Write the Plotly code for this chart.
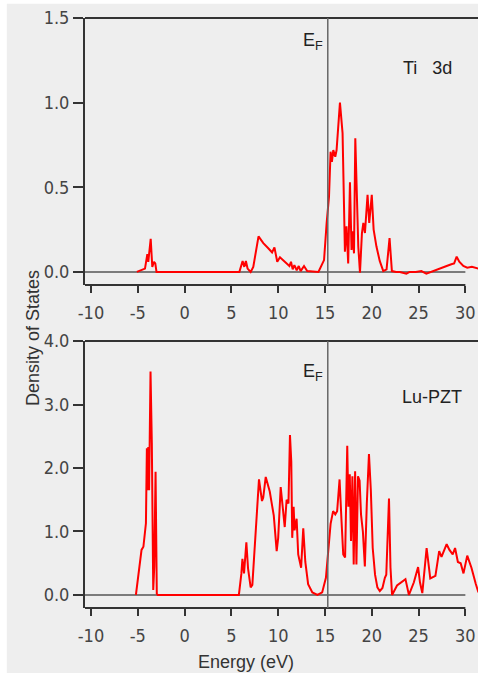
import plotly.graph_objects as go

# ---------------- data ----------------
ti_energy = [-5.1, -4.6, -4.23, -3.98, -3.88, -3.62, -3.45, -3.27, -3.13, -3.0,
             5.85, 6.2, 6.38, 6.55, 6.73, 7.06, 7.34, 7.9, 8.41, 8.94, 9.35, 9.6, 9.9,
             10.19, 10.55, 10.9, 11.2, 11.37, 11.55, 11.73, 11.98, 12.2, 12.4, 12.76, 13.1,
             14.3, 14.9, 15.18, 15.43, 15.6, 15.74, 15.89, 16.1, 16.24, 16.6, 16.88, 17.13,
             17.3, 17.48, 17.67, 17.84, 17.95, 18.1, 18.24, 18.45, 18.56, 18.74, 18.95, 19.1,
             19.27, 19.55, 19.73, 20.0, 20.2, 20.5, 20.85, 21.23, 21.58, 21.9, 22.15, 22.6,
             23.0, 23.7, 24.05, 24.7, 25.3, 25.83, 26.5, 27.3, 28.0, 28.5, 28.8, 29.07,
             29.35, 29.78, 30.2, 30.7, 31.4]
ti_dos = [0.0, 0.01, 0.02, 0.105, 0.06, 0.195, 0.03, 0.06, 0.05, 0.0,
          0.0, 0.065, 0.03, 0.065, 0.02, 0.0, 0.03, 0.21, 0.17, 0.14, 0.115, 0.145, 0.06,
          0.087, 0.067, 0.05, 0.035, 0.06, 0.015, 0.04, 0.01, 0.035, 0.005, 0.035, 0.005,
          0.0, 0.07, 0.29, 0.445, 0.71, 0.65, 0.72, 0.68, 0.72, 1.0, 0.82, 0.12,
          0.27, 0.05, 0.53, 0.13, 0.24, 0.11, 0.79, 0.25, 0.15, -0.005, 0.23, 0.29,
          0.23, 0.455, 0.29, 0.455, 0.25, 0.15, 0.065, 0.005, 0.015, 0.2, 0.005, 0.0,
          0.0, -0.01, 0.0, 0.0, 0.005, -0.01, 0.005, 0.02, 0.035, 0.045, 0.05, 0.09,
          0.06, 0.035, 0.025, 0.03, 0.02]

lu_energy = [-5.2, -4.84, -4.6, -4.4, -4.24, -4.13, -4.03, -3.96, -3.88, -3.79, -3.64,
             -3.5, -3.35, -3.24, -3.1, -2.97, -2.87, 5.8, 6.07, 6.18, 6.35, 6.6, 6.78,
             7.06, 7.24, 7.95, 8.27, 8.4, 8.67, 8.84, 9.1, 9.36, 9.53, 9.84, 10.0, 10.27,
             10.48, 10.7, 10.9, 11.1, 11.26, 11.4, 11.5, 11.65, 11.75, 11.97, 12.14, 12.3,
             12.45, 12.68, 12.9, 13.2, 13.65, 14.2, 14.7, 15.1, 15.35, 15.6, 15.87, 16.1,
             16.3, 16.56, 16.77, 16.95, 17.15, 17.38, 17.5, 17.65, 17.78, 17.93, 18.07,
             18.22, 18.36, 18.53, 18.7, 18.85, 19.05, 19.26, 19.47, 19.7, 19.9, 20.1,
             20.35, 20.6, 20.86, 21.14, 21.4, 21.55, 21.84, 22.0, 22.17, 22.7, 23.6,
             23.97, 24.5, 24.95, 25.15, 25.4, 25.86, 26.25, 26.8, 27.2, 27.45, 28.0,
             28.3, 28.65, 28.9, 29.2, 29.5, 29.8, 30.2, 30.65, 31.1, 31.4]
lu_dos = [0.0, 0.45, 0.71, 0.76, 1.02, 1.13, 2.31, 1.65, 2.33, 1.65, 3.52,
          2.39, 0.08, 0.45, 1.94, 0.02, 0.0, 0.0, 0.34, 0.57, 0.34, 0.83, 0.42,
          0.12, 0.16, 1.82, 1.48, 1.53, 1.86, 1.76, 1.63, 1.4, 1.25, 0.69, 0.9, 1.7,
          1.39, 1.07, 1.5, 1.44, 2.52, 2.1, 0.9, 1.39, 1.02, 1.2, 0.64, 0.52,
          0.43, 1.05, 0.52, 0.17, 0.04, 0.0, 0.04, 0.27, 0.64, 1.12, 1.32, 1.27,
          1.32, 1.82, 1.16, 0.64, 0.59, 2.35, 1.39, 1.9, 0.85, 1.87, 0.48,
          1.95, 0.48, 1.87, 1.8, 1.27, 1.0, 0.45, 1.44, 2.22, 1.65, 0.74,
          0.32, 0.12, 0.06, 0.11, 0.27, 0.32, 1.52, 0.43, 0.0, 0.15, 0.25,
          0.0, 0.2, 0.44, 0.2, 0.03, 0.74, 0.26, 0.3, 0.69, 0.6, 0.8,
          0.71, 0.64, 0.74, 0.52, 0.5, 0.34, 0.62, 0.43, 0.18, 0.04]

x_ticks = [-10, -5, 0, 5, 10, 15, 20, 25, 30]
ti_yticks = [0.0, 0.5, 1.0, 1.5]
lu_yticks = [0.0, 1.0, 2.0, 3.0, 4.0]
fermi_energy = 15.3
x_range = [-10.64, 31.35]
ti_range = [-0.077, 1.5]
lu_range = [-0.205, 4.0]
x_axis_end = 30

# ---------------- style ----------------
BG = "#EEEEEE"
AX = "#333333"
TICKFONT = dict(family="Liberation Sans Narrow, Arial Narrow, DejaVu Sans Condensed, sans-serif",
                size=18, color="#444444")
TEXTFONT = dict(family="Liberation Sans, Arial, sans-serif", size=18, color="#222222")

fig = go.Figure()
fig.add_trace(go.Scatter(x=ti_energy, y=ti_dos, mode="lines", xaxis="x", yaxis="y",
                         line=dict(color="#FF0000", width=2), showlegend=False))
fig.add_trace(go.Scatter(x=lu_energy, y=lu_dos, mode="lines", xaxis="x2", yaxis="y2",
                         line=dict(color="#FF0000", width=2), showlegend=False))

xcommon = dict(range=x_range, tickvals=x_ticks, ticktext=[str(v) for v in x_ticks],
               ticks="outside", ticklen=7, tickwidth=2, tickcolor=AX,
               showline=False, showgrid=False, zeroline=False, tickfont=TICKFONT,
               ticklabelstandoff=4)
ycommon = dict(ticks="outside", ticklen=10, tickwidth=1.5, tickcolor=AX,
               showline=True, linecolor=AX, linewidth=2, mirror=False,
               showgrid=False, zeroline=False, tickfont=TICKFONT)

fig.update_layout(
    width=478, height=673,
    margin=dict(l=85, r=0, t=18, b=65),
    paper_bgcolor="white", plot_bgcolor=BG,
    xaxis=dict(domain=[0, 1], anchor="y", **xcommon),
    yaxis=dict(domain=[0.5475, 1.0], anchor="x", range=ti_range, tickvals=ti_yticks,
               ticktext=[f"{v:.1f}" for v in ti_yticks], **ycommon),
    xaxis2=dict(domain=[0, 1], anchor="y2", **xcommon),
    yaxis2=dict(domain=[0.0, 0.4525], anchor="x2", range=lu_range, tickvals=lu_yticks,
                ticktext=[f"{v:.1f}" for v in lu_yticks], **ycommon),
)

shapes = [
    # grey page background
    dict(type="rect", xref="paper", yref="paper", x0=-0.199, x1=1.05, y0=-0.115, y1=1.024,
         fillcolor=BG, line=dict(width=0), layer="below"),
]
for xr, yr, yrange in (("x", "y", ti_range), ("x2", "y2", lu_range)):
    shapes += [
        # top frame line
        dict(type="line", xref=f"{xr} domain", yref=f"{yr} domain", x0=0, x1=1.05, y0=1, y1=1,
             line=dict(color=AX, width=2)),
        # bottom axis line
        dict(type="line", xref=xr, yref=f"{yr} domain", x0=x_range[0], x1=x_axis_end, y0=0, y1=0,
             line=dict(color=AX, width=2)),
        # zero line
        dict(type="line", xref=xr, yref=yr, x0=x_range[0], x1=x_axis_end, y0=0, y1=0,
             line=dict(color="#555555", width=1.5), layer="below"),
        # Fermi level
        dict(type="line", xref=xr, yref=f"{yr} domain", x0=fermi_energy, x1=fermi_energy, y0=0, y1=1,
             line=dict(color="#666666", width=1.5)),
    ]
fig.update_layout(shapes=shapes)

annotations = [
    dict(text="E<sub>F</sub>", xref="x", yref="y", x=fermi_energy, y=1.36, xanchor="right",
         yanchor="middle", xshift=-3, showarrow=False, font=TEXTFONT),
    dict(text="E<sub>F</sub>", xref="x2", yref="y2", x=fermi_energy, y=3.51, xanchor="right",
         yanchor="middle", xshift=-3, showarrow=False, font=TEXTFONT),
    dict(text="Ti   3d", xref="x", yref="y", x=26.0, y=1.205, showarrow=False, font=TEXTFONT),
    dict(text="Lu-PZT", xref="x2", yref="y2", x=26.4, y=3.12, showarrow=False, font=TEXTFONT),
    dict(text="Density of States", xref="paper", yref="paper", x=-0.1323, y=0.4576,
         textangle=-90, showarrow=False, xanchor="center", yanchor="middle",
         font=dict(family="Liberation Sans, Arial, sans-serif", size=18, color="#333333")),
    dict(text="Energy (eV)", xref="paper", yref="paper", x=0.41, y=-0.0915,
         showarrow=False, xanchor="center", yanchor="middle",
         font=dict(family="Liberation Sans, Arial, sans-serif", size=18, color="#333333")),
]
fig.update_layout(annotations=annotations)

fig.write_html("out.html")
